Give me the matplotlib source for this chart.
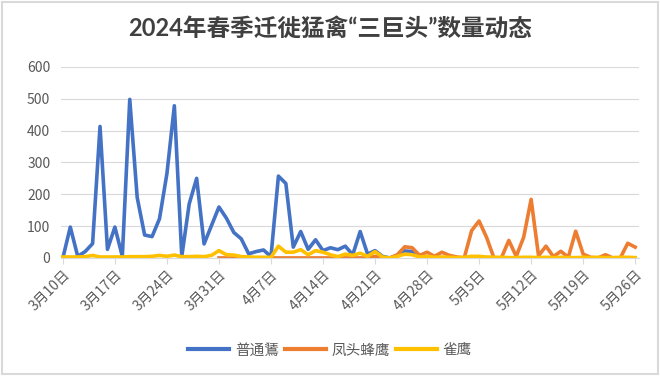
import matplotlib
matplotlib.use('Agg')
import matplotlib.pyplot as plt
import numpy as np
import pandas as pd
from matplotlib.patches import Rectangle

plt.rcParams['font.family'] = ['Noto Sans CJK SC', 'DejaVu Sans']

dates = pd.date_range('2024-03-10', '2024-05-26')
tick_idx = list(range(0, len(dates), 7))
tick_labels = [f'{d.month}月{d.day}日' for d in dates[tick_idx]]

# 普通鵟
buzzard = [0, 97, 5, 20, 45, 413, 27, 97, 5, 498,
           190, 72, 67, 123, 265, 478, 5, 170, 250, 44,
           102, 160, 125, 80, 60, 13, 20, 25, 4, 257,
           234, 34, 83, 27, 57, 23, 32, 26, 37, 10,
           83, 12, 23, 5, 0, 8, 22, 20, 5] + [0] * 29
# 凤头蜂鹰 (no records before 3/31)
honey = [np.nan] * 21 + [0] * 21 + [
    5, 0, 0, 10, 35, 32, 8, 18, 5, 18,
    8, 3, 0, 86, 116, 65, 0, 0, 55, 5,
    65, 184, 7, 37, 4, 21, 2, 84, 12, 2,
    0, 10, 0, 0, 46, 34]
# 雀鹰
sparrow = [3, 3, 3, 4, 8, 3, 3, 3, 3, 4,
           4, 4, 5, 8, 5, 9, 4, 4, 5, 4,
           8, 23, 10, 9, 4, 3, 2, 2, 2, 37,
           18, 18, 26, 10, 23, 18, 10, 4, 12, 8,
           15, 5, 20, 3, 0, 5, 12, 10, 3, 5,
           2, 3, 2, 1, 2, 5, 5, 3, 2, 2,
           1, 1, 2, 2, 1, 2, 1, 2, 1, 1,
           2, 1, 2, 1, 1, 2, 2, 1]

x = np.arange(len(dates))

fig = plt.figure(figsize=(6.6, 3.76), dpi=100)
ax = fig.add_axes([0.093, 0.314, 0.875, 0.508])

lw = 2.6
ax.plot(x, buzzard, color='#4472C4', lw=lw, label='普通鵟', solid_joinstyle='round')
ax.plot(x, honey, color='#ED7D31', lw=lw, label='凤头蜂鹰', solid_joinstyle='round')
ax.plot(x, sparrow, color='#FFC000', lw=lw, label='雀鹰', solid_joinstyle='round')

ax.set_ylim(0, 600)
ax.set_yticks(range(0, 601, 100))
ax.set_xlim(-0.2, 77.5)
ax.set_xticks(tick_idx)
ax.set_xticklabels(tick_labels, rotation=45, ha='right', rotation_mode='anchor')

ax.grid(axis='y', color='#d9d9d9', lw=0.8)
ax.set_axisbelow(True)
for s in ['top', 'right', 'left']:
    ax.spines[s].set_visible(False)
ax.spines['bottom'].set_color('#d9d9d9')
ax.tick_params(axis='y', length=0, labelsize=10, labelcolor='#595959', pad=8)
ax.tick_params(axis='x', length=4, color='#d9d9d9', labelsize=10, labelcolor='#595959', pad=3)

fig.text(0.5, 0.925, '2024年春季迁徙猛禽“三巨头”数量动态', ha='center', va='center',
         fontsize=17, fontweight='bold', color='#404040',
         family=['Lato', 'Noto Sans CJK SC'])

leg = fig.legend(loc='center', bbox_to_anchor=(0.5, 0.068), ncol=3, frameon=False,
                 fontsize=10.5, handlelength=2.8, handletextpad=0.4, columnspacing=0.4,
                 labelcolor='#595959')
for h in leg.get_lines():
    h.set_linewidth(3)

fig.patches.append(Rectangle((0.003, 0.004), 0.994, 0.992, transform=fig.transFigure,
                             fill=False, edgecolor='#d9d9d9', lw=1.5))

fig.savefig('out.png', dpi=100)
